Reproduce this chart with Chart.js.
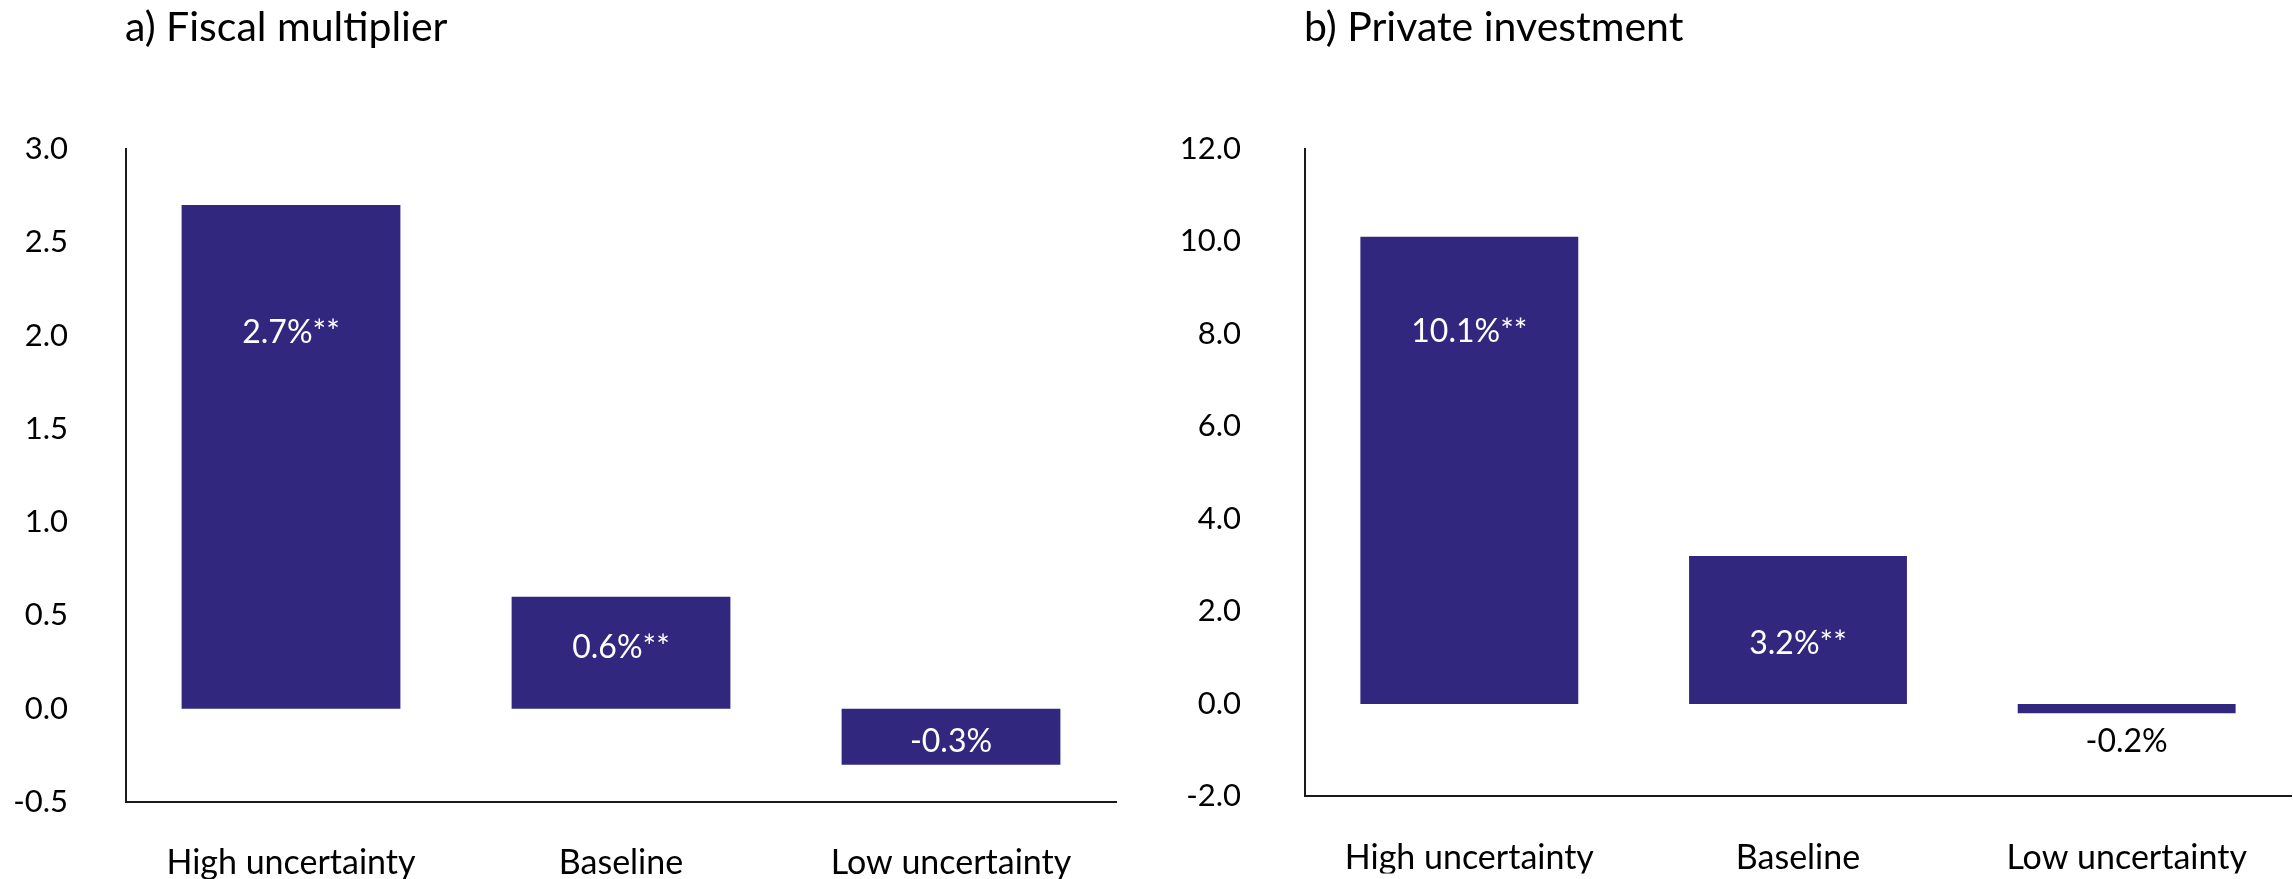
<!DOCTYPE html>
<html>
<head>
<meta charset="utf-8">
<script src="https://cdn.jsdelivr.net/npm/chart.js@4.4.1/dist/chart.umd.min.js"></script>
<style>
  html, body { margin: 0; padding: 0; background: #fff; }
  #wrap { position: relative; width: 2293px; height: 879px; overflow: hidden; }
  #wrap canvas { position: absolute; top: 0; }
</style>
</head>
<body>
<div id="wrap">
  <canvas id="fiscalChart" width="1150" height="879" style="left:0"></canvas>
  <canvas id="investChart" width="1143" height="879" style="left:1150px"></canvas>
</div>
<script>
const categories = ["High uncertainty", "Baseline", "Low uncertainty"];

const fiscalTitle = "a) Fiscal multiplier";
const fiscalValues = [2.7, 0.6, -0.3];
const fiscalStars = ["**", "**", ""];
const fiscalTicks = { min: -0.5, max: 3.0, step: 0.5 };

const investTitle = "b) Private investment";
const investValues = [10.1, 3.2, -0.2];
const investStars = ["**", "**", ""];
const investTicks = { min: -2.0, max: 12.0, step: 2.0 };

const FONT = "Lato, 'Open Sans', sans-serif";
const BAR_COLOR = "#32277f";

// value labels, placed at a fraction of the plot height
const barLabels = {
  id: "barLabels",
  afterDatasetsDraw(chart, args, opts) {
    const { ctx, chartArea } = chart;
    const meta = chart.getDatasetMeta(0);
    const values = chart.data.datasets[0].data;
    ctx.save();
    ctx.font = "32px " + FONT;
    ctx.textAlign = "center";
    ctx.textBaseline = "middle";
    meta.data.forEach((bar, i) => {
      ctx.fillStyle = opts.colors[i];
      const txt = values[i].toFixed(1) + "%" + opts.stars[i];
      ctx.fillText(txt, bar.x, chartArea.top + chartArea.height * opts.at[i]);
    });
    ctx.restore();
  },
};

// panel heading, flush with the y axis line
const panelTitle = {
  id: "panelTitle",
  afterDraw(chart, args, opts) {
    const { ctx, chartArea } = chart;
    ctx.save();
    ctx.font = "41px " + FONT;
    ctx.fillStyle = "#000";
    ctx.textAlign = "left";
    ctx.textBaseline = "alphabetic";
    ctx.fillText(opts.text, chartArea.left - 1, 41);
    ctx.restore();
  },
};

function renderPanel(id, title, values, stars, range, layout) {
  const ctx = document.getElementById(id).getContext("2d");

  return new Chart(ctx, {
    type: "bar",
    data: {
      labels: categories,
      datasets: [
        {
          data: values,
          backgroundColor: BAR_COLOR,
          borderWidth: 0,
          categoryPercentage: 1.0,
          barPercentage: 0.663,
        },
      ],
    },
    plugins: [barLabels, panelTitle],
    options: {
      responsive: false,
      animation: false,
      devicePixelRatio: 1,
      layout: { padding: { top: 149, right: layout.right, left: 0, bottom: 0 } },
      plugins: {
        legend: { display: false },
        tooltip: { enabled: false },
        panelTitle: { text: title },
        barLabels: { stars: stars, colors: layout.labelColors, at: layout.labelAt },
      },
      scales: {
        x: {
          grid: { display: false, drawTicks: false },
          border: { display: true, color: "#1a1a1a", width: 2 },
          ticks: {
            color: "#000",
            font: { family: FONT, size: 34 },
            padding: 41,
            maxRotation: 0,
            autoSkip: false,
          },
          afterFit: (scale) => { scale.height = 77; },
        },
        y: {
          min: range.min,
          max: range.max,
          grid: { display: false, drawTicks: false },
          border: { display: true, color: "#1a1a1a", width: 2 },
          ticks: {
            stepSize: range.step,
            color: "#000",
            font: { family: FONT, size: 31 },
            padding: layout.tickPad,
            callback: (v) => Number(v).toFixed(1),
          },
          afterFit: (scale) => { scale.width = layout.axisWidth; },
        },
      },
    },
  });
}

renderPanel("fiscalChart", fiscalTitle, fiscalValues, fiscalStars, fiscalTicks, {
  right: 34,
  axisWidth: 126,
  tickPad: 58,
  labelColors: ["#fff", "#fff", "#fff"],
  labelAt: [0.282, 0.764, 0.907],
});

renderPanel("investChart", investTitle, investValues, investStars, investTicks, {
  right: 2,
  axisWidth: 155,
  tickPad: 64,
  labelColors: ["#fff", "#fff", "#000"],
  labelAt: [0.282, 0.764, 0.916],
});
</script>
</body>
</html>
